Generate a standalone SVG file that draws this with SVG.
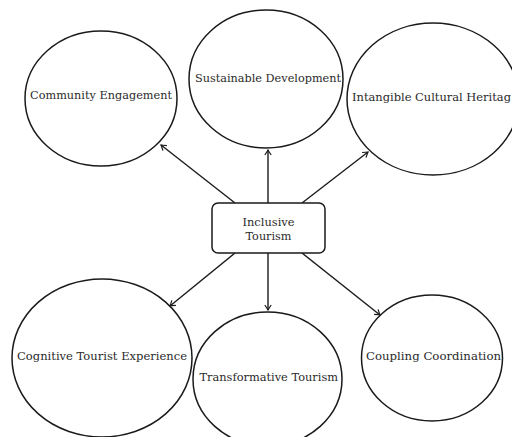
<svg xmlns="http://www.w3.org/2000/svg" width="512" height="437" viewBox="0 0 512 437">
<style>
.bg{fill:#ffffff}
.ell{fill:#ffffff;stroke:#1a1a1a;stroke-width:1.5}
.box{fill:#ffffff;stroke:#1a1a1a;stroke-width:1.5}
.lbl{font-family:"DejaVu Serif","Liberation Serif",serif;font-size:10.5px;fill:#2a2a2a}
.mid{text-anchor:middle}
.conn{stroke:#1a1a1a;stroke-width:1.4;fill:none;marker-end:url(#arr)}
</style>
<defs>
<marker id="arr" viewBox="-6 -4 7 8" refX="0" refY="0" markerWidth="7" markerHeight="8" markerUnits="userSpaceOnUse" orient="auto">
<path d="M-5,-3.2 Q-1.5,-0.8 0,0 Q-1.5,0.8 -5,3.2" fill="none" stroke="#1a1a1a" stroke-width="1.2"/>
</marker>
</defs>
<rect class="bg" x="0" y="0" width="512" height="437"/>
<g id="connectors">
<line class="conn" x1="235" y1="203" x2="161" y2="145"/>
<line class="conn" x1="268" y1="203" x2="268" y2="150"/>
<line class="conn" x1="302" y1="203" x2="368" y2="152"/>
<line class="conn" x1="235" y1="253" x2="170" y2="306"/>
<line class="conn" x1="268" y1="253" x2="268" y2="310"/>
<line class="conn" x1="302" y1="253" x2="380" y2="315"/>
</g>
<g id="community-engagement">
<ellipse class="ell" cx="101" cy="98.5" rx="76" ry="67.5"/>
<text class="lbl" x="30" y="99" textLength="142" lengthAdjust="spacingAndGlyphs">Community Engagement</text>
</g>
<g id="sustainable-development">
<ellipse class="ell" cx="266" cy="79" rx="77" ry="69"/>
<text class="lbl" x="195" y="82" textLength="146" lengthAdjust="spacingAndGlyphs">Sustainable Development</text>
</g>
<g id="intangible-cultural-heritage">
<ellipse class="ell" cx="433" cy="99" rx="86" ry="76"/>
<text class="lbl" x="352" y="101" textLength="159" lengthAdjust="spacingAndGlyphs">Intangible Cultural Heritag</text>
</g>
<g id="inclusive-tourism">
<rect class="box" x="212" y="203" width="113" height="50" rx="6" ry="6"/>
<text class="lbl mid" x="268.5" y="225.5" textLength="52" lengthAdjust="spacingAndGlyphs">Inclusive</text>
<text class="lbl mid" x="268.5" y="240" textLength="46" lengthAdjust="spacingAndGlyphs">Tourism</text>
</g>
<g id="cognitive-tourist-experience">
<ellipse class="ell" cx="102" cy="358" rx="90" ry="79"/>
<text class="lbl" x="17" y="360" textLength="170" lengthAdjust="spacingAndGlyphs">Cognitive Tourist Experience</text>
</g>
<g id="transformative-tourism">
<ellipse class="ell" cx="267.5" cy="379" rx="74.5" ry="67"/>
<text class="lbl" x="199.5" y="381" textLength="138.5" lengthAdjust="spacingAndGlyphs">Transformative Tourism</text>
</g>
<g id="coupling-coordination">
<ellipse class="ell" cx="432" cy="358" rx="70.5" ry="63"/>
<text class="lbl" x="366" y="360" textLength="135" lengthAdjust="spacingAndGlyphs">Coupling Coordination</text>
</g>
</svg>
